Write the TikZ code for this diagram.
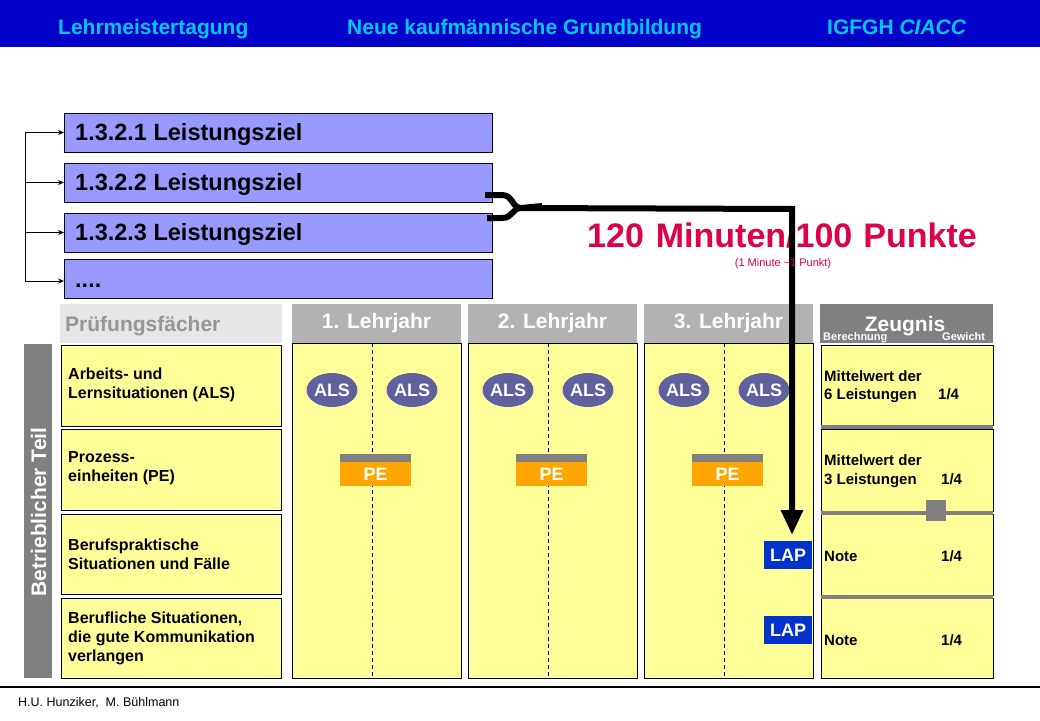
\documentclass[tikz,border=0pt]{standalone}
\usepackage{fontspec}
\setmainfont{Liberation Sans}
\usetikzlibrary{arrows.meta,shapes.geometric}
\definecolor{hdrblue}{RGB}{0,0,200}
\definecolor{hdrtext}{RGB}{0,200,250}
\definecolor{lav}{RGB}{153,153,255}
\definecolor{yel}{RGB}{255,255,153}
\definecolor{crim}{RGB}{222,0,72}
\definecolor{gr1}{RGB}{230,230,230}
\definecolor{gr1t}{RGB}{150,150,150}
\definecolor{gr2}{RGB}{178,178,178}
\definecolor{gr3}{RGB}{128,128,128}
\definecolor{alsc}{RGB}{96,96,158}
\definecolor{pec}{RGB}{255,165,0}
\definecolor{lapc}{RGB}{0,51,204}
\newcommand\fsz[2]{\fontsize{#1}{#2}\selectfont}
\tikzset{
 rbox/.style={inner sep=0pt, outer sep=0pt, anchor=north west},
 hdrtxt/.style={inner sep=0pt, anchor=base west, text=hdrtext, font=\fsz{21}{25}\bfseries},
 lz/.style={rbox, draw=black, line width=0.8pt, fill=lav, minimum width=428pt, minimum height=39pt},
 lztxt/.style={inner sep=0pt, anchor=base west, font=\fsz{23.5}{27}\bfseries},
 yb/.style={rbox, draw=black, line width=0.8pt, fill=yel},
 colhdr/.style={rbox, minimum height=39pt, text=white, font=\fsz{21}{25}\bfseries},
 lt/.style={inner sep=0pt, anchor=west, align=left, font=\fsz{16}{19}\bfseries},
 zt/.style={inner sep=0pt, anchor=base west, font=\fsz{15}{18}\bfseries},
 als/.style={ellipse, fill=alsc, minimum width=48pt, minimum height=34pt, inner sep=0pt, text=white, font=\fsz{18}{20}\bfseries},
 pebar/.style={rbox, fill=gr3, minimum width=71pt, minimum height=8pt},
 pebox/.style={rbox, fill=pec, minimum width=71pt, minimum height=24pt, text=white, font=\fsz{18}{20}\bfseries},
 lapbox/.style={rbox, fill=lapc, minimum width=48pt, minimum height=28pt, text=white, font=\fsz{18}{20}\bfseries},
 dsh/.style={line width=0.8pt, dash pattern=on 4pt off 3pt},
 thk/.style={line width=6pt, black},
 barrow/.style={line width=1pt, -{Stealth[length=6pt,width=5pt]}},
 sepbar/.style={rbox, fill=gr3, minimum width=172pt},
}
\begin{document}
\begin{tikzpicture}[x=1pt,y=-1pt]
\useasboundingbox (0,0) rectangle (1040,720);
\fill[white] (0,0) rectangle (1040,720);
% header
\node[rbox, fill=hdrblue, minimum width=1040pt, minimum height=47pt] (hdr) at (0,0) {};
\node[hdrtxt] (h1) at (58,34) {Lehrmeistertagung};
\node[hdrtxt] (h2) at (347,34) {Neue kaufmännische Grundbildung};
\node[hdrtxt] (h3) at (827,34) {IGFGH \textit{CIACC}};
% Leistungsziele
\node[lz] (l1) at (64,113) {};
\node[lz] (l2) at (64,163) {};
\node[lz] (l3) at (64,213) {};
\node[lz] (l4) at (64,259) {};
\node[lztxt] (lt1) at (75,140) {1.3.2.1 Leistungsziel};
\node[lztxt] (lt2) at (75,190) {1.3.2.2 Leistungsziel};
\node[lztxt] (lt3) at (75,240) {1.3.2.3 Leistungsziel};
\node[lztxt] (lt4) at (75,287) {....};
\coordinate (lx) at (25,0);
\draw[line width=1pt] (l1.west -| lx) -- ([yshift=-2.5pt]l4.west -| lx);
\draw[barrow] (l1.west -| lx) -- (l1.west);
\draw[barrow] (l2.west -| lx) -- (l2.west);
\draw[barrow] (l3.west -| lx) -- (l3.west);
\draw[barrow] ([yshift=-2.5pt]l4.west -| lx) -- ([yshift=-2.5pt]l4.west);
% big text
\node[inner sep=0pt, anchor=base west, text=crim, font=\fsz{34}{40}\bfseries] (big) at (587,247) {120\hskip 12pt Minuten/100\hskip 11pt Punkte};
% column headers
\node[colhdr, fill=gr1, minimum width=222pt] (ch0) at (60,304) {};
\node[inner sep=0pt, anchor=base west, text=gr1t, font=\fsz{21}{25}\bfseries] (ch0t) at (65,331) {Prüfungsfächer};
\node[colhdr, fill=gr2, minimum width=169pt] (ch1) at (292,304) {1. Lehrjahr};
\node[colhdr, fill=gr2, minimum width=169pt] (ch2) at (468,304) {2. Lehrjahr};
\node[colhdr, fill=gr2, minimum width=169pt] (ch3) at (644,304) {3. Lehrjahr};
\node[colhdr, fill=gr3, minimum width=173pt] (ch4) at (820,304) {};
\node[inner sep=0pt, anchor=base, text=white, font=\fsz{21}{25}\bfseries] (zeug) at (905,331) {Zeugnis};
\node[inner sep=0pt, anchor=base west, text=white, font=\fsz{11}{13}\bfseries] (ber) at (823,340) {Berechnung};
\node[inner sep=0pt, anchor=base west, text=white, font=\fsz{11}{13}\bfseries] (gew) at (942,340) {Gewicht};
% side bar
\node[rbox, fill=gr3, minimum width=28pt, minimum height=334pt] (side) at (24,344) {};
\node[inner sep=0pt, rotate=90, text=white, font=\fsz{21}{25}\bfseries] (sidet) at (38.5,512) {Betrieblicher Teil};
% left boxes
\node[yb, minimum width=220pt, minimum height=81pt] (p1) at (61,345) {};
\node[yb, minimum width=220pt, minimum height=81pt] (p2) at (61,429) {};
\node[yb, minimum width=220pt, minimum height=80pt] (p3) at (61,514) {};
\node[yb, minimum width=220pt, minimum height=80pt] (p4) at (61,598) {};
\node[lt] (pt1) at ([xshift=7pt,yshift=1pt]p1.west) {Arbeits- und\\Lernsituationen (ALS)};
\node[lt] (pt2) at ([xshift=7pt,yshift=1pt]p2.west) {Prozess-\\einheiten (PE)};
\node[lt] (pt3) at ([xshift=7pt]p3.west) {Berufspraktische\\Situationen und Fälle};
\node[lt] (pt4) at ([xshift=7pt]p4.west) {Berufliche Situationen,\\die gute Kommunikation\\verlangen};
% year columns
\node[yb, minimum width=169pt, minimum height=335pt] (y1) at (292,343) {};
\node[yb, minimum width=169pt, minimum height=335pt] (y2) at (468,343) {};
\node[yb, minimum width=169pt, minimum height=335pt] (y3) at (644,343) {};
\draw[dsh] ([xshift=-4pt]y1.north) -- ([xshift=-4pt]y1.south);
\draw[dsh] ([xshift=-4pt]y2.north) -- ([xshift=-4pt]y2.south);
\draw[dsh] ([xshift=-4pt]y3.north) -- ([xshift=-4pt]y3.south);
\node[als] (a1) at (332,390) {ALS};
\node[als] (a2) at (412,390) {ALS};
\node[als] (a3) at (508,390) {ALS};
\node[als] (a4) at (588,390) {ALS};
\node[als] (a5) at (684,390) {ALS};
\node[als] (a6) at (764,390) {ALS};
\node[pebar] (pb1) at (340,454) {};
\node[pebar] (pb2) at (516,454) {};
\node[pebar] (pb3) at (692,454) {};
\node[pebox] (pe1) at (340,462) {PE};
\node[pebox] (pe2) at (516,462) {PE};
\node[pebox] (pe3) at (692,462) {PE};
\node[lapbox] (lap1) at (764,541) {LAP};
\node[lapbox] (lap2) at (764,616) {LAP};
% Zeugnis boxes
\node[yb, minimum width=172pt, minimum height=80pt] (g1) at (821,345) {};
\node[yb, minimum width=172pt, minimum height=82pt] (g2) at (821,429) {};
\node[yb, minimum width=172pt, minimum height=81pt] (g3) at (821,514) {};
\node[yb, minimum width=172pt, minimum height=80pt] (g4) at (821,598) {};
\node[sepbar, minimum height=4pt] (s1) at (821,425) {};
\node[sepbar, minimum height=3.5pt] (s2) at (821,511) {};
\node[sepbar, minimum height=3.5pt] (s3) at (821,595) {};
\node[rbox, fill=gr3, minimum width=20pt, minimum height=21pt] (sq) at (926,500) {};
\node[zt] (zt1a) at (824,381) {Mittelwert der};
\node[zt] (zt1b) at (824,399) {6 Leistungen};
\node[zt] (zw1) at (938,399) {1/4};
\node[zt] (zt2a) at (824,465) {Mittelwert der};
\node[zt] (zt2b) at (824,484) {3 Leistungen};
\node[zt] (zw2) at (941,484) {1/4};
\node[zt] (zt3) at (824,561) {Note};
\node[zt] (zw3) at (941,561) {1/4};
\node[zt] (zt4) at (824,645) {Note};
\node[zt] (zw4) at (941,645) {1/4};
% brace and arrow (on top)
\coordinate (bt) at (485,195);
\coordinate (bb) at (487,218);
\coordinate (tip) at (521,208);
\coordinate (corner) at (792,209);
\coordinate (aend) at (792,535);
\draw[thk] (bt) -- (502,195) .. controls (513,195) and (512,208) .. (tip);
\draw[thk] (bb) -- (502,218) .. controls (513,218) and (512,208) .. (tip);
\draw[thk, line cap=butt] (tip) -- (542,206);
\draw[thk, -{Triangle[width=21pt,length=25pt]}] (tip) -- (corner) -- (aend);
\node[inner sep=0pt, anchor=base, text=crim, font=\fsz{11}{13}] (small) at (783,266) {(1 Minute \textasciitilde1 Punkt)};
% footer
\coordinate (fl) at (0,687);
\coordinate (fr) at (1040,687);
\draw[line width=1.2pt] (fl) -- (fr);
\node[inner sep=0pt, anchor=base west, font=\fsz{12.5}{15}] (foot) at (18,706) {H.U. Hunziker,\ \ M. Bühlmann};
\end{tikzpicture}
\end{document}
